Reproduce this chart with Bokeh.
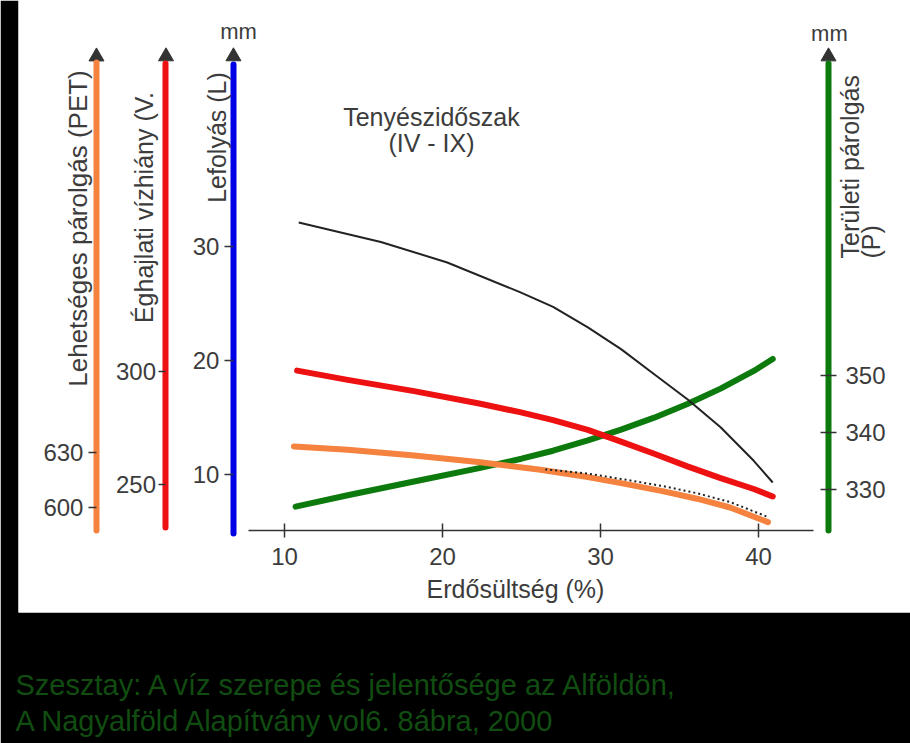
import math
from bokeh.plotting import figure
from bokeh.models import Range1d, LinearAxis, FixedTicker, Label, Title
from bokeh.embed import file_html
from bokeh.resources import INLINE

# ---------------- data ----------------
# Lefolyás (L), mm  -- black curve, blue axis
runoff_x = [10.9, 16.1, 20.3, 24.9, 27.0, 29.2, 31.3, 33.4, 35.5, 37.6, 39.7, 40.9]
runoff_L = [32.1, 30.4, 28.6, 26.0, 24.7, 22.9, 21.0, 18.8, 16.6, 14.15, 11.2, 9.3]
# Éghajlati vízhiány (V), mm -- red curve, red axis
deficit_x = [10.8, 14.0, 18.2, 22.4, 24.9, 27.0, 29.2, 31.3, 33.4, 35.5, 37.6, 39.7, 40.9]
deficit_V = [300.4, 296.3, 291.3, 285.7, 282.0, 278.5, 274.2, 269.0, 263.6, 258.0, 252.8, 248.0, 244.7]
# Lehetséges párolgás (PET), mm -- orange curve, orange axis
pet_x = [10.6, 14.0, 18.2, 22.4, 26.2, 29.2, 31.3, 34.0, 36.1, 38.2, 40.6]
pet_val = [633.3, 631.5, 628.4, 624.7, 620.6, 616.6, 613.3, 608.8, 604.8, 600.0, 592.0]
# dotted companion line above the PET curve
dotted_x = [26.5, 29.2, 31.3, 34.0, 36.1, 38.2, 40.6]
dotted_val = [620.8, 618.5, 615.6, 611.6, 607.8, 603.0, 594.8]
# Területi párolgás (P), mm -- green curve, green axis
evap_x = [10.7, 14.0, 18.2, 22.4, 25.0, 27.0, 29.2, 31.3, 33.4, 35.5, 37.6, 39.7, 40.9]
evap_P = [327.0, 329.0, 331.4, 333.8, 335.4, 336.8, 338.6, 340.5, 342.6, 345.0, 347.7, 350.8, 352.9]

x_ticks = [10, 20, 30, 40]
L_ticks = [10, 20, 30]
V_ticks = [250, 300]
PET_ticks = [600, 630]
P_ticks = [330, 340, 350]

# ---------------- styles ----------------
FONT = "Liberation Sans"
TXT = "#3c3c3c"
ORANGE = "#f5823f"
RED = "#ee1111"
BLUE = "#0000e6"
GREEN = "#0c7a0c"
DARK = "#333333"
CITE = "#114d11"

p = figure(width=910, height=743,
           x_range=Range1d(-6.835, 49.62), y_range=Range1d(-2.105, 51.579),
           min_border_left=18, min_border_right=0, min_border_top=0, min_border_bottom=131,
           x_axis_location=None, y_axis_location=None,
           toolbar_location=None, output_backend="svg",
           background_fill_color="white", border_fill_color="black",
           outline_line_color=None)
p.grid.visible = False

p.extra_y_ranges = {
    "pet": Range1d(542.72, 876.6),
    "def": Range1d(193.36, 464.16),
    "evap": Range1d(308.42, 415.79),
}


def vaxis(rng, loc, bounds, ticks, color, side, tin, tout, standoff):
    ax = LinearAxis(y_range_name=rng, fixed_location=loc, bounds=bounds,
                    ticker=FixedTicker(ticks=ticks),
                    axis_line_color=color, axis_line_width=6, axis_line_cap="round",
                    major_tick_line_color=DARK, major_tick_line_width=1.5,
                    major_tick_in=tin, major_tick_out=tout,
                    minor_tick_line_color=None,
                    major_label_standoff=standoff,
                    major_label_text_font=FONT, major_label_text_font_size="24px",
                    major_label_text_color=TXT)
    p.add_layout(ax, side)
    return ax


vaxis("pet", -1.90, (587.45, 843.0), PET_ticks, ORANGE, "left", 0, 8, 5)
vaxis("def", 2.50, (230.97, 436.3), V_ticks, RED, "left", 0, 7, 3)
vaxis("default", 6.77, (4.82, 46.0), L_ticks, BLUE, "left", 0, 9, 5)
vaxis("evap", 44.43, (322.8, 404.7), P_ticks, GREEN, "right", 8, 8, 9)

xax = LinearAxis(fixed_location=5.09, bounds=(7.72, 43.48),
                 ticker=FixedTicker(ticks=x_ticks),
                 axis_line_color=DARK, axis_line_width=1.5,
                 major_tick_line_color=DARK, major_tick_line_width=1.5,
                 major_tick_in=7, major_tick_out=7, minor_tick_line_color=None,
                 major_label_standoff=11,
                 major_label_text_font=FONT, major_label_text_font_size="24px",
                 major_label_text_color=TXT)
p.add_layout(xax, "below")

# arrow heads on the vertical axes
p.scatter([-1.90], [846.0], marker="triangle", size=15, color=DARK, y_range_name="pet")
p.scatter([2.50], [439.4], marker="triangle", size=15, color=DARK, y_range_name="def")
p.scatter([6.77], [46.67], marker="triangle", size=15, color=DARK)
p.scatter([44.43], [405.96], marker="triangle", size=15, color=DARK, y_range_name="evap")

# curves
p.line(evap_x, evap_P, line_width=6, color=GREEN, line_cap="round", line_join="round",
       y_range_name="evap")
p.line(pet_x, pet_val, line_width=6, color=ORANGE, line_cap="round", line_join="round",
       y_range_name="pet")
p.line(dotted_x, dotted_val, line_width=2, color="#222222", line_dash="2 3", y_range_name="pet")
p.line(deficit_x, deficit_V, line_width=6, color=RED, line_cap="round", line_join="round",
       y_range_name="def")
p.line(runoff_x, runoff_L, line_width=2, color="#222222", line_join="round")


def lab(text, x, y, size="25px", angle=0.0, align="center", color=TXT, rng="default"):
    p.add_layout(Label(x=x, y=y, text=text, angle=angle, text_align=align,
                       text_baseline="middle", text_font=FONT, text_font_size=size,
                       text_color=color, y_range_name=rng))


R = math.pi / 2
lab("Lehetséges párolgás (PET)", -3.10, 31.58, size="26px", angle=R)
lab("Éghajlati vízhiány (V.", 1.08, 33.42, angle=R)
lab("Lefolyás (L)", 5.70, 39.56, angle=R)
lab("Területi párolgás", 45.82, 28.95, angle=R, align="left")
lab("(P)", 47.10, 28.95, angle=R, align="left")
lab("mm", 7.09, 48.86, size="22px")
lab("mm", 44.49, 48.68, size="22px")
lab("Tenyészidőszak", 19.30, 41.32)
lab("(IV - IX)", 19.30, 39.04)
lab("Erdősültség (%)", 24.62, 0.0)

# spacer panel, then the two-line source note below the white chart area
p.add_layout(Title(text=" ", standoff=51, text_font_size="2px", text_color="black"), "below")
cite_lines = ["Szesztay: A víz szerepe és jelentősége az Alföldön,",
              "A Nagyalföld Alapítvány vol6. 8ábra, 2000"]
p.add_layout(Title(text="\n".join(cite_lines), align="left", offset=-3, standoff=0,
                   text_font=FONT, text_font_size="29px", text_font_style="normal",
                   text_line_height=1.14, text_color=CITE), "below")

open("out.html", "w").write(file_html(p, INLINE))
